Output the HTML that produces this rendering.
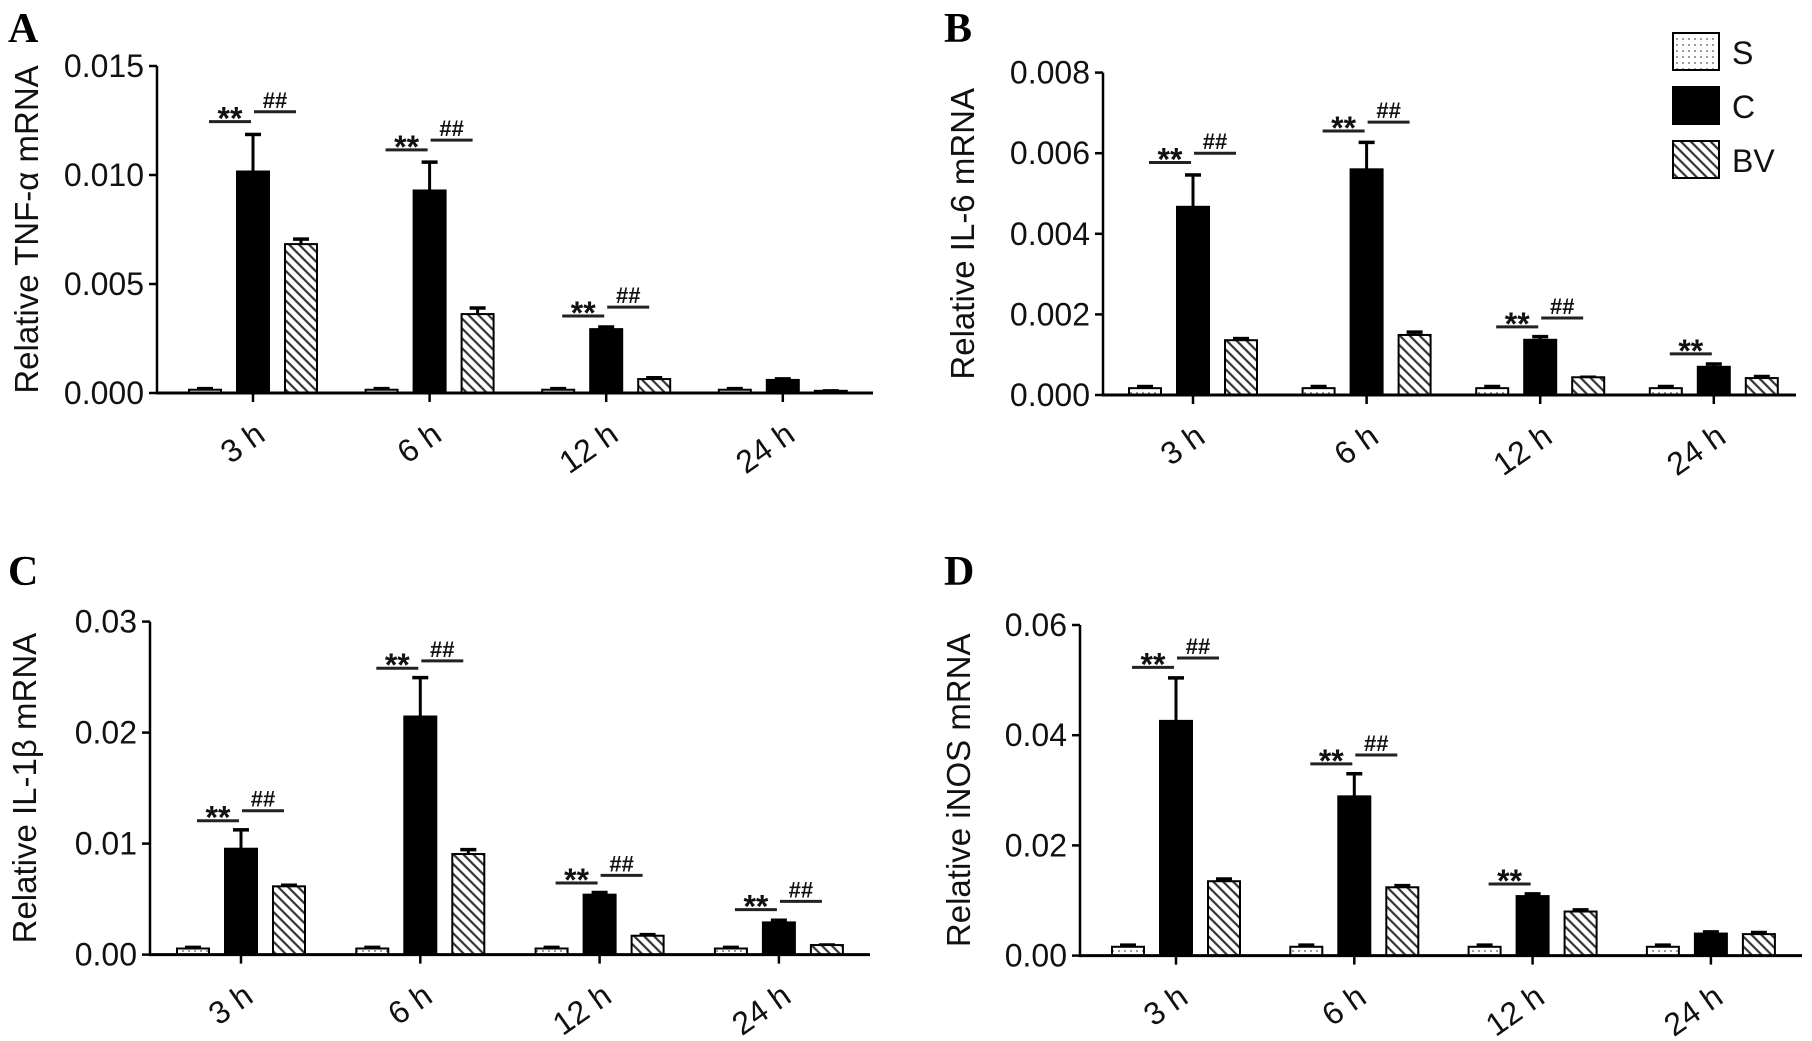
<!DOCTYPE html>
<html><head><meta charset="utf-8">
<style>
html,body{margin:0;padding:0;background:#fff;}
svg{display:block;font-family:"Liberation Sans",Arial,sans-serif;}
</style></head>
<body>
<svg id="fig" width="1812" height="1041" viewBox="0 0 1812 1041" xmlns="http://www.w3.org/2000/svg">
<defs>
<pattern id="hatch" patternUnits="userSpaceOnUse" width="7" height="7" patternTransform="rotate(-45)">
<rect width="7" height="7" fill="#fff"/>
<line x1="0" y1="0" x2="0" y2="7" stroke="#333" stroke-width="2.2" transform="translate(3.5,0)"/>
</pattern>
<pattern id="dots" patternUnits="userSpaceOnUse" width="6" height="6">
<rect width="6" height="6" fill="#fff"/>
<circle cx="3" cy="3" r="0.9" fill="#555"/>
</pattern>
</defs>
</svg>
<script>
// shared categories
const categories = ["3 h","6 h","12 h","24 h"];

// Panel A: TNF-alpha
const tnfS = [0.00015,0.00015,0.00015,0.00015];
const tnfC = [0.01016,0.00929,0.00293,0.0006];
const tnfBV = [0.00683,0.00362,0.00064,0.0001];
const tnfErrS = [0.00005,0.00005,0.00005,0.00005];
const tnfErrC = [0.0017,0.0013,0.0001,0.00005];
const tnfErrBV = [0.00023,0.00028,0.00006,0.0];
const tnfTicks = ["0.000","0.005","0.010","0.015"];
const tnfTickVals = [0,0.005,0.010,0.015];
const tnfStar = [0.01245,0.01115,0.00353,null];
const tnfHash = [0.0129,0.0116,0.00394,null];

// Panel B: IL-6
const il6S = [0.00017,0.00017,0.00017,0.00017];
const il6C = [0.00467,0.0056,0.00137,0.0007];
const il6BV = [0.00136,0.00149,0.00044,0.00042];
const il6ErrS = [0.00004,0.00004,0.00004,0.00004];
const il6ErrC = [0.00079,0.00067,0.00008,0.00007];
const il6ErrBV = [0.00004,0.00007,0.0,0.00004];
const il6Ticks = ["0.000","0.002","0.004","0.006","0.008"];
const il6TickVals = [0,0.002,0.004,0.006,0.008];
const il6Star = [0.00577,0.00655,0.00169,0.00102];
const il6Hash = [0.006,0.00677,0.00191,null];

// Panel C: IL-1beta
const il1S = [0.00055,0.00055,0.00055,0.00055];
const il1C = [0.00954,0.02145,0.0054,0.0029];
const il1BV = [0.00615,0.00906,0.0017,0.00086];
const il1ErrS = [0.0001,0.0001,0.0001,0.0001];
const il1ErrC = [0.0017,0.0035,0.0002,0.0002];
const il1ErrBV = [0.0001,0.0004,0.0001,0.0];
const il1Ticks = ["0.00","0.01","0.02","0.03"];
const il1TickVals = [0,0.01,0.02,0.03];
const il1Star = [0.01206,0.0258,0.00645,0.00405];
const il1Hash = [0.01296,0.02646,0.00714,0.0048];

// Panel D: iNOS
const inosS = [0.0016,0.0016,0.0016,0.0016];
const inosC = [0.0426,0.0289,0.0108,0.004];
const inosBV = [0.0135,0.0124,0.008,0.0039];
const inosErrS = [0.0003,0.0003,0.0003,0.0003];
const inosErrC = [0.0078,0.0041,0.0004,0.0003];
const inosErrBV = [0.0004,0.0003,0.0003,0.0003];
const inosTicks = ["0.00","0.02","0.04","0.06"];
const inosTickVals = [0,0.02,0.04,0.06];
const inosStar = [0.0523,0.0348,0.013,null];
const inosHash = [0.054,0.0364,null,null];

const NS = "http://www.w3.org/2000/svg";
const svg = document.getElementById('fig');
function mk(tag, attrs, parent){
  const e = document.createElementNS(NS, tag);
  for (const k in attrs) e.setAttribute(k, attrs[k]);
  (parent||svg).appendChild(e);
  return e;
}

function panel(cfg){
  const g = mk('g', {});
  
  
  const yMax = cfg.tickVals[cfg.tickVals.length-1];
  const yScale = v => cfg.y0 - (v / yMax) * (cfg.y0 - cfg.yTop);
  const xScale = i => cfg.c0 + i * cfg.step;
  const bw = 32, off = 48;

  const L = mk('text', {x: cfg.lx, y: cfg.ly, 'font-family': '"Liberation Serif",serif', 'font-weight': 'bold', 'font-size': 42, fill: '#000'}, g);
  L.textContent = cfg.letter;
  
  

  const yt = mk('text', {x: 0, y: 0, 'font-size': 33, 'text-anchor': 'middle', fill: '#111',
    transform: `translate(${cfg.ytx},${(cfg.y0+cfg.yTop)/2}) rotate(-90)`}, g);
  yt.textContent = cfg.ytitle;
  
  

  const series = [
    {vals: cfg.S, err: cfg.eS, fill: 'url(#dots)', o: -off, n: 'S'},
    {vals: cfg.C, err: cfg.eC, fill: '#000', o: 0, n: 'C'},
    {vals: cfg.BV, err: cfg.eBV, fill: 'url(#hatch)', o: off, n: 'BV'}
  ];
  series.forEach(s => {
    s.vals.forEach((v, i) => {
      const cx = xScale(i) + s.o;
      const top = yScale(v + s.err[i]);
      const el = mk('line', {x1: cx, x2: cx, y1: yScale(v), y2: top, stroke: '#000', 'stroke-width': 3}, g);
      
      
      const cap = mk('line', {x1: cx-8, x2: cx+8, y1: top, y2: top, stroke: '#000', 'stroke-width': 3.5}, g);
      
      
      const y = yScale(v);
      const r = mk('rect', {x: cx-bw/2, y: y, width: bw, height: Math.max(cfg.y0 - y, 0.5), fill: s.fill, stroke: '#000', 'stroke-width': 2}, g);
      
      
    });
  });

  const ya = mk('line', {x1: cfg.x0, x2: cfg.x0, y1: cfg.yTop, y2: cfg.y0+1.5, stroke: '#000', 'stroke-width': 2.5}, g);
  
  
  const xa = mk('line', {x1: cfg.x0, x2: cfg.xEnd, y1: cfg.y0, y2: cfg.y0, stroke: '#000', 'stroke-width': 3}, g);
  
  

  cfg.tickVals.forEach((tv, k) => {
    const y = yScale(tv);
    const t = mk('line', {x1: cfg.x0-8, x2: cfg.x0, y1: y, y2: y, stroke: '#000', 'stroke-width': 2.5}, g);
    
    
    const tl = mk('text', {x: cfg.x0-13, y: y+11, 'font-size': 32, 'text-anchor': 'end', fill: '#111'}, g);
    tl.textContent = cfg.ticks[k];
    
    
  });

  categories.forEach((c, i) => {
    const cx = xScale(i);
    const t = mk('line', {x1: cx, x2: cx, y1: cfg.y0, y2: cfg.y0+9, stroke: '#000', 'stroke-width': 2.5}, g);
    
    
    const tl = mk('text', {x: 0, y: 0, 'font-size': 32, 'text-anchor': 'end', fill: '#111',
      transform: `translate(${cx+14},${cfg.y0+46}) rotate(-35)`}, g);
    tl.textContent = c;
    
    

    if (cfg.star[i] != null) {
      const y = yScale(cfg.star[i]);
      const ln = mk('line', {x1: cx-44, x2: cx-2, y1: y, y2: y, stroke: '#222', 'stroke-width': 3}, g);
      
      
      const tx = mk('text', {x: cx-23, y: y+8, 'font-size': 32, 'font-weight': 'bold', 'text-anchor': 'middle', fill: '#111'}, g);
      tx.textContent = '**';
      
      
    }
    if (cfg.hash[i] != null) {
      const y = yScale(cfg.hash[i]);
      const ln = mk('line', {x1: cx+1, x2: cx+43, y1: y, y2: y, stroke: '#222', 'stroke-width': 3}, g);
      
      
      const tx = mk('text', {x: cx+22, y: y-4, 'font-size': 22, 'font-weight': 'bold', 'text-anchor': 'middle', fill: '#111'}, g);
      tx.textContent = '##';
      
      
    }
  });
}

panel({name:'panel-a-tnf', letter:'A', lx:8, ly:42, ytitle:'Relative TNF-\u03b1 mRNA', ytx:38,
  x0:157, xEnd:873, y0:393, yTop:66, c0:253, step:176.6,
  S:tnfS, C:tnfC, BV:tnfBV, eS:tnfErrS, eC:tnfErrC, eBV:tnfErrBV,
  ticks:tnfTicks, tickVals:tnfTickVals, star:tnfStar, hash:tnfHash});
panel({name:'panel-b-il6', letter:'B', lx:944, ly:42, ytitle:'Relative IL-6 mRNA', ytx:974,
  x0:1103, xEnd:1796, y0:395, yTop:72.6, c0:1193, step:173.6,
  S:il6S, C:il6C, BV:il6BV, eS:il6ErrS, eC:il6ErrC, eBV:il6ErrBV,
  ticks:il6Ticks, tickVals:il6TickVals, star:il6Star, hash:il6Hash});
panel({name:'panel-c-il1b', letter:'C', lx:8, ly:585, ytitle:'Relative IL-1\u03b2 mRNA', ytx:36,
  x0:150, xEnd:870, y0:954.6, yTop:621.6, c0:241, step:179.3,
  S:il1S, C:il1C, BV:il1BV, eS:il1ErrS, eC:il1ErrC, eBV:il1ErrBV,
  ticks:il1Ticks, tickVals:il1TickVals, star:il1Star, hash:il1Hash});
panel({name:'panel-d-inos', letter:'D', lx:944, ly:585, ytitle:'Relative iNOS mRNA', ytx:970,
  x0:1080, xEnd:1802, y0:955.6, yTop:625, c0:1176, step:178.3,
  S:inosS, C:inosC, BV:inosBV, eS:inosErrS, eC:inosErrC, eBV:inosErrBV,
  ticks:inosTicks, tickVals:inosTickVals, star:inosStar, hash:inosHash});

const legendLabels = ["S","C","BV"];
const legendFills = ['url(#dots)','#000','url(#hatch)'];
const lg = mk('g', {});


legendLabels.forEach((lab, k) => {
  const y = 33 + k*54;
  const r = mk('rect', {x:1673, y:y, width:46, height:37, fill:legendFills[k], stroke:'#000', 'stroke-width':2}, lg);
  
  
  const t = mk('text', {x:1732, y:y+31, 'font-size':32, fill:'#111'}, lg);
  t.textContent = lab;
  
  
});
</script>
</body></html>
